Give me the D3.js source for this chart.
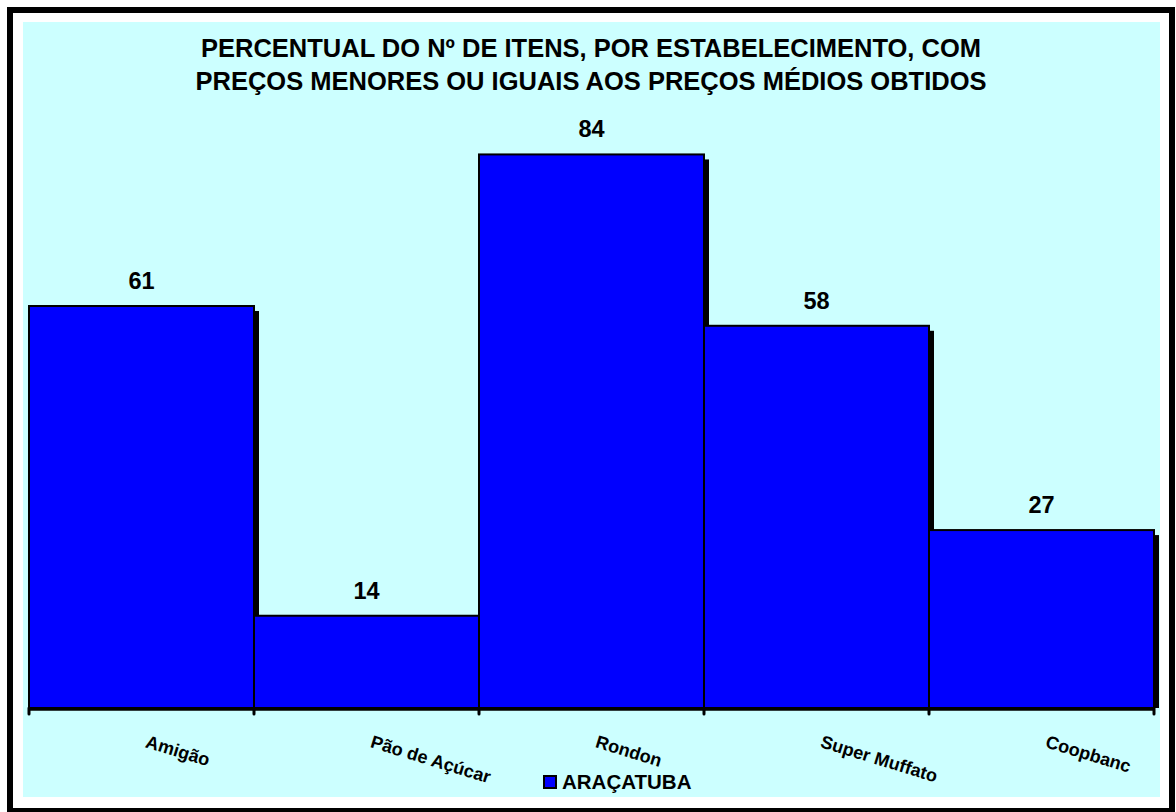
<!DOCTYPE html>
<html>
<head>
<meta charset="utf-8">
<script src="https://cdn.jsdelivr.net/npm/d3@7"></script>
<style>
  body { margin: 0; background: #fff; }
  text { font-family: "Liberation Sans", Arial, sans-serif; font-weight: bold; fill: #000; }
</style>
</head>
<body>
<script>
var categories = ["Amigão", "Pão de Açúcar", "Rondon", "Super Muffato", "Coopbanc"];
var values = [61, 14, 84, 58, 27];
var seriesName = "ARAÇATUBA";
var titleLines = ["PERCENTUAL DO Nº DE ITENS, POR ESTABELECIMENTO, COM",
                  "PREÇOS MENORES OU IGUAIS AOS PREÇOS MÉDIOS OBTIDOS"];

var w = 1176, h = 812;
var shadow = 5;

var svg = d3.select("body").append("svg")
  .attr("width", w)
  .attr("height", h);

// outer frame + chart area
svg.append("rect")
  .attr("x", 10).attr("y", 10)
  .attr("width", 1162).attr("height", 801)
  .attr("fill", "#fff")
  .attr("stroke", "#000")
  .attr("stroke-width", 6);

svg.append("rect")
  .attr("x", 23).attr("y", 22)
  .attr("width", 1137).attr("height", 775)
  .attr("fill", "#ccffff");

// title
svg.selectAll("text.title")
  .data(titleLines)
  .enter()
  .append("text")
  .attr("class", "title")
  .attr("x", 591)
  .attr("y", function(d, i){ return 57 + i * 33; })
  .attr("text-anchor", "middle")
  .attr("font-size", "25.5px")
  .text(function(d){ return d; });

var xScale = d3.scaleBand()
  .domain(categories)
  .range([29, 1154])
  .padding(0);

var yScale = d3.scaleLinear()
  .domain([0, 100])
  .range([708, 49]);

var data = categories.map(function(c, i){ return {name: c, value: values[i]}; });

// shadows
svg.selectAll("rect.shadow")
  .data(data)
  .enter()
  .append("rect")
  .attr("class", "shadow")
  .attr("x", function(d){ return xScale(d.name) + shadow; })
  .attr("y", function(d){ return yScale(d.value) + shadow; })
  .attr("width", xScale.bandwidth())
  .attr("height", function(d){ return yScale(0) - yScale(d.value) - shadow; })
  .attr("fill", "#000");

// bars
svg.selectAll("rect.bar")
  .data(data)
  .enter()
  .append("rect")
  .attr("class", "bar")
  .attr("x", function(d){ return xScale(d.name); })
  .attr("y", function(d){ return yScale(d.value); })
  .attr("width", xScale.bandwidth())
  .attr("height", function(d){ return yScale(0) - yScale(d.value); })
  .attr("fill", "#0000ff")
  .attr("stroke", "#000")
  .attr("stroke-width", 2);

// value labels
svg.selectAll("text.value")
  .data(data)
  .enter()
  .append("text")
  .attr("class", "value")
  .attr("x", function(d){ return xScale(d.name) + xScale.bandwidth() / 2; })
  .attr("y", function(d){ return yScale(d.value) - 17; })
  .attr("text-anchor", "middle")
  .attr("font-size", "23.5px")
  .text(function(d){ return d.value; });

// x axis line and ticks at band edges
var edges = categories.map(function(c){ return xScale(c); }).concat([xScale.range()[1]]);

svg.append("line")
  .attr("x1", xScale.range()[0]).attr("x2", xScale.range()[1] + 1)
  .attr("y1", yScale(0) + 1).attr("y2", yScale(0) + 1)
  .attr("stroke", "#000")
  .attr("stroke-width", 3.5);

svg.selectAll("line.tick")
  .data(edges)
  .enter()
  .append("line")
  .attr("class", "tick")
  .attr("x1", function(d){ return d; }).attr("x2", function(d){ return d; })
  .attr("y1", yScale(0)).attr("y2", yScale(0) + 6)
  .attr("stroke", "#000")
  .attr("stroke-width", 3)
  .attr("stroke-linecap", "round");

// category labels, rotated
svg.selectAll("text.cat")
  .data(categories)
  .enter()
  .append("text")
  .attr("class", "cat")
  .attr("font-size", "18px")
  .attr("transform", function(d){
    var x = xScale(d) + xScale.bandwidth() / 2 + 3;
    return "translate(" + x + ",747) rotate(17)";
  })
  .text(function(d){ return d; });

// legend
svg.append("rect")
  .attr("x", 544).attr("y", 776)
  .attr("width", 12).attr("height", 12)
  .attr("fill", "#0000ff")
  .attr("stroke", "#000")
  .attr("stroke-width", 2);

svg.append("text")
  .attr("x", 562)
  .attr("y", 789)
  .attr("font-size", "20.5px")
  .text(seriesName);
</script>
</body>
</html>
